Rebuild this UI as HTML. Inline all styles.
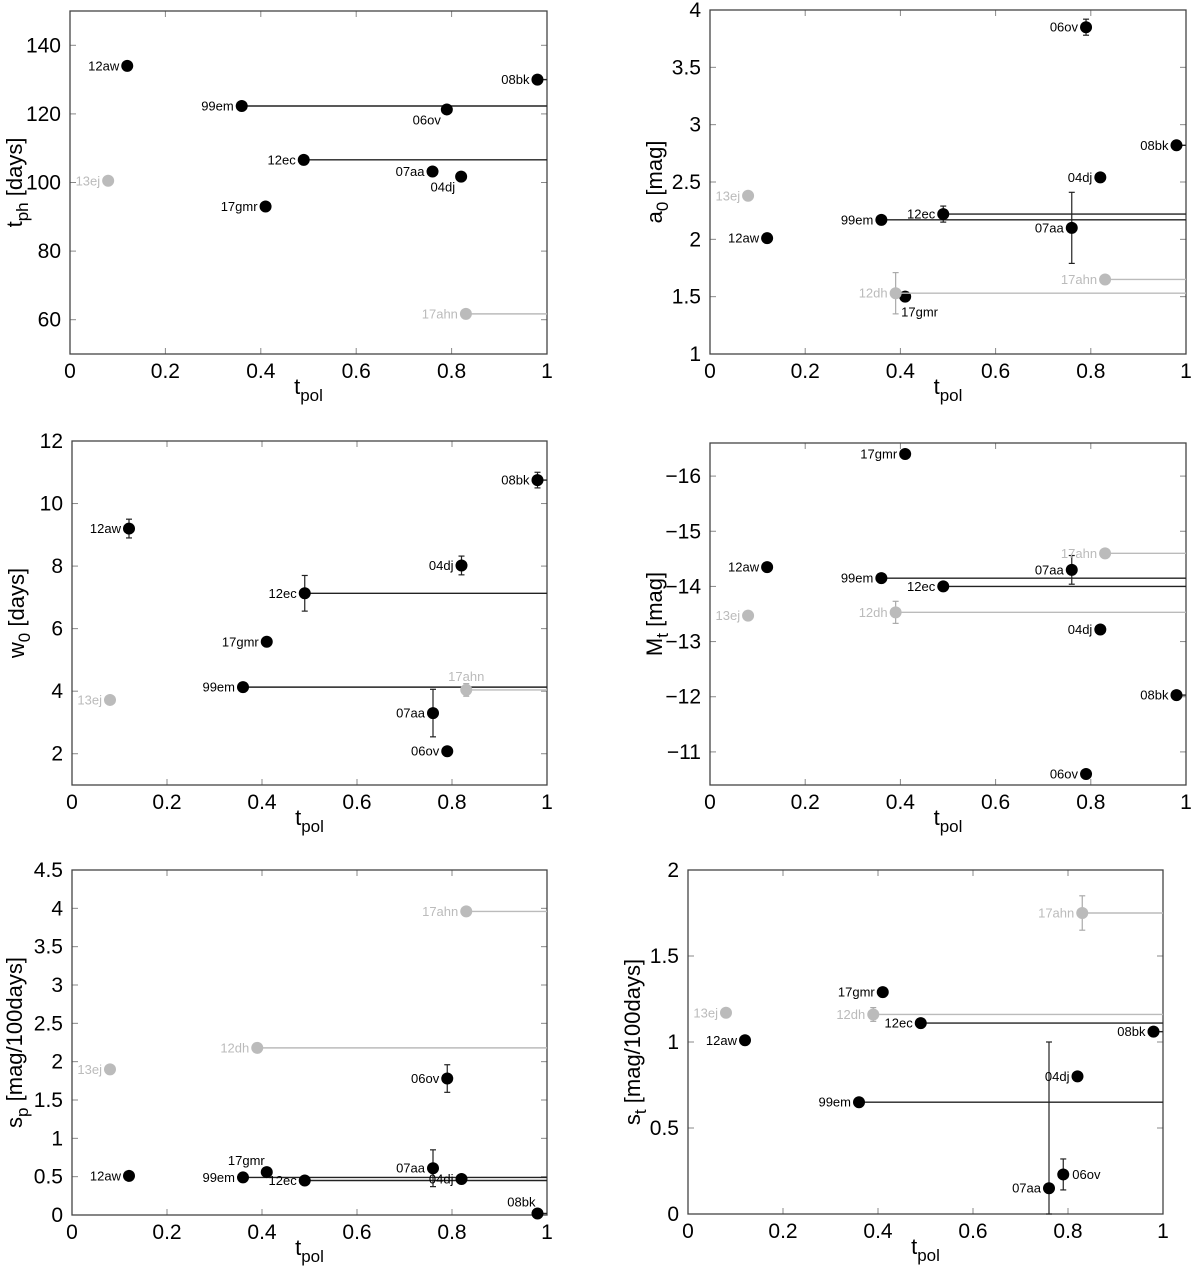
<!DOCTYPE html>
<html><head><meta charset="utf-8"><style>
body{margin:0;background:#fff;}
svg{display:block;font-family:"Liberation Sans",sans-serif;}
</style></head><body>
<svg id="fig" width="1200" height="1268" viewBox="0 0 1200 1268"></svg>
<script>
const names=["12aw","13ej","99em","17gmr","12ec","12dh","07aa","06ov","04dj","17ahn","08bk"];
const tpol=[0.12,0.08,0.36,0.41,0.49,0.39,0.76,0.79,0.82,0.83,0.98];
const grayFlags=[0,1,0,0,0,1,0,0,0,1,0];
const limitFlags=[0,0,1,0,1,1,0,0,0,1,1];
const xTickLabels=["0","0.2","0.4","0.6","0.8","1"];
const tphValues=[134,100.5,122.3,93,106.6,null,103.2,121.3,101.7,61.7,130];
const tphErrors=[0,0,0,0,0,0,0,0,0,0,0];
const tphTicks=["60","80","100","120","140"];
const a0Values=[2.01,2.38,2.17,1.5,2.22,1.53,2.1,3.85,2.54,1.65,2.82];
const a0Errors=[0,0,0,0,0.07,0.18,0.31,0.07,0,0,0];
const a0Ticks=["1","1.5","2","2.5","3","3.5","4"];
const w0Values=[9.2,3.72,4.13,5.58,7.13,null,3.3,2.08,8.02,4.04,10.75];
const w0Errors=[0.3,0,0,0,0.57,0,0.76,0,0.3,0.2,0.25];
const w0Ticks=["2","4","6","8","10","12"];
const mtValues=[-14.35,-13.47,-14.15,-16.4,-14.0,-13.53,-14.3,-10.6,-13.22,-14.6,-12.03];
const mtErrors=[0,0,0,0,0,0.2,0.26,0,0,0,0];
const mtTicks=["-16","-15","-14","-13","-12","-11"];
const spValues=[0.51,1.9,0.49,0.56,0.45,2.18,0.61,1.78,0.47,3.96,0.02];
const spErrors=[0,0,0,0,0,0,0.24,0.18,0,0,0];
const spTicks=["0","0.5","1","1.5","2","2.5","3","3.5","4","4.5"];
const stValues=[1.01,1.17,0.65,1.29,1.11,1.16,0.15,0.23,0.8,1.75,1.06];
const stErrLow=[0,0,0,0,0,0.04,0.15,0.09,0,0.1,0];
const stErrHigh=[0,0,0,0,0,0.04,0.85,0.09,0,0.1,0];
const stTicks=["0","0.5","1","1.5","2"];

const NS="http://www.w3.org/2000/svg";
const svg=document.getElementById('fig');
function mk(tag,attrs,parent){const e=document.createElementNS(NS,tag);for(const k in attrs)e.setAttribute(k,attrs[k]);(parent||svg).appendChild(e);return e;}

const panels=[
 {id:"tph",L:70,R:547,T:11,B:354,ymin:50,ymax:150,vals:tphValues,lo:tphErrors,hi:tphErrors,ticks:tphTicks,ylab:["t","ph"," [days]"],ylx:22,
  place:{"06ov":"bl","04dj":"bl"}},
 {id:"a0",L:710,R:1186,T:10,B:354,ymin:1,ymax:4,vals:a0Values,lo:a0Errors,hi:a0Errors,ticks:a0Ticks,ylab:["a","0"," [mag]"],ylx:662,
  place:{"17gmr":"br"}},
 {id:"w0",L:72,R:547,T:441,B:785,ymin:1,ymax:12,vals:w0Values,lo:w0Errors,hi:w0Errors,ticks:w0Ticks,ylab:["w","0"," [days]"],ylx:24,
  place:{"17ahn":"a"}},
 {id:"mt",L:710,R:1186,T:443,B:785,ymin:-10.4,ymax:-16.6,vals:mtValues,lo:mtErrors,hi:mtErrors,ticks:mtTicks,ylab:["M","t"," [mag]"],ylx:662,
  place:{}},
 {id:"sp",L:72,R:547,T:870,B:1215,ymin:0,ymax:4.5,vals:spValues,lo:spErrors,hi:spErrors,ticks:spTicks,ylab:["s","p"," [mag/100days]"],ylx:22,
  place:{"17gmr":"al","08bk":"al"}},
 {id:"st",L:688,R:1163,T:870,B:1214,ymin:0,ymax:2,vals:stValues,lo:stErrLow,hi:stErrHigh,ticks:stTicks,ylab:["s","t"," [mag/100days]"],ylx:640,
  place:{"06ov":"r"}}
];

panels.forEach(p=>{
 const g=mk('g',{});
 
 
 const xs=v=>p.L+(v-0)*(p.R-p.L);
 const ys=v=>p.B-(v-p.ymin)/(p.ymax-p.ymin)*(p.B-p.T);
 xTickLabels.forEach(t=>{
  const v=parseFloat(t),x=xs(v);
  mk('line',{x1:x,y1:p.B,x2:x,y2:p.B-6,stroke:'#888','stroke-width':1},g);
  mk('line',{x1:x,y1:p.T,x2:x,y2:p.T+6,stroke:'#888','stroke-width':1},g);
  const tx=mk('text',{x:x,y:p.B+24,'font-size':21,'text-anchor':'middle',fill:'#000'},g);
  tx.textContent=t;
  
  
 });
 p.ticks.forEach(t=>{
  const v=parseFloat(t),y=ys(v);
  mk('line',{x1:p.L,y1:y,x2:p.L+6,y2:y,stroke:'#888','stroke-width':1},g);
  mk('line',{x1:p.R,y1:y,x2:p.R-6,y2:y,stroke:'#888','stroke-width':1},g);
  const tx=mk('text',{x:p.L-9,y:y+7,'font-size':21,'text-anchor':'end',fill:'#000'},g);
  tx.textContent=t.replace('-','\u2212');
  
  
 });
 const fr=mk('rect',{x:p.L,y:p.T,width:p.R-p.L,height:p.B-p.T,fill:'none',stroke:'#444','stroke-width':1.3},g);
 
 
 const xt=mk('text',{x:(p.L+p.R)/2,y:p.B+40,'font-size':22,'text-anchor':'middle',fill:'#000'},g);
 
 
 xt.innerHTML='t<tspan font-size="17" dy="7">pol</tspan>';
 const yt=mk('text',{x:0,y:0,'font-size':22,'text-anchor':'middle',fill:'#000',transform:`translate(${p.ylx},${(p.T+p.B)/2}) rotate(-90)`},g);
 
 
 yt.innerHTML=p.ylab[0]+'<tspan font-size="17" dy="6">'+p.ylab[1]+'</tspan><tspan dy="-6">'+p.ylab[2]+'</tspan>';
 names.forEach((n,i)=>{
  const v=p.vals[i]; if(v===null) return;
  const col=grayFlags[i]?'#bbbbbb':'#000';
  const x=xs(tpol[i]),y=ys(v);
  const pg=mk('g',{},g);
  
  
  if(limitFlags[i]) mk('line',{x1:x,y1:y,x2:p.R,y2:y,stroke:grayFlags[i]?'#bbb':'#222','stroke-width':1.4},pg);
  if(p.lo[i]||p.hi[i]){
   const y1=ys(v-p.lo[i]),y2=ys(v+p.hi[i]);
   mk('line',{x1:x,y1:y1,x2:x,y2:y2,stroke:grayFlags[i]?'#aaa':'#222','stroke-width':1.2},pg);
   mk('line',{x1:x-3,y1:y1,x2:x+3,y2:y1,stroke:grayFlags[i]?'#aaa':'#222','stroke-width':1.2},pg);
   mk('line',{x1:x-3,y1:y2,x2:x+3,y2:y2,stroke:grayFlags[i]?'#aaa':'#222','stroke-width':1.2},pg);
  }
  mk('circle',{cx:x,cy:y,r:6,fill:col},pg);
  const pl=p.place[n]||'l';
  let a={x:x-8,y:y+4.5,anchor:'end'};
  if(pl==='bl')a={x:x-6,y:y+15,anchor:'end'};
  if(pl==='br')a={x:x-4,y:y+20,anchor:'start'};
  if(pl==='r')a={x:x+9,y:y+4.5,anchor:'start'};
  if(pl==='al')a={x:x-2,y:y-7,anchor:'end'};
  if(pl==='a')a={x:x,y:y-9,anchor:'middle'};
  const lt=mk('text',{x:a.x,y:a.y,'font-size':13,'text-anchor':a.anchor,fill:grayFlags[i]?'#bbb':'#000'},pg);
  lt.textContent=n;
  
  
 });
});
</script>
</body></html>
